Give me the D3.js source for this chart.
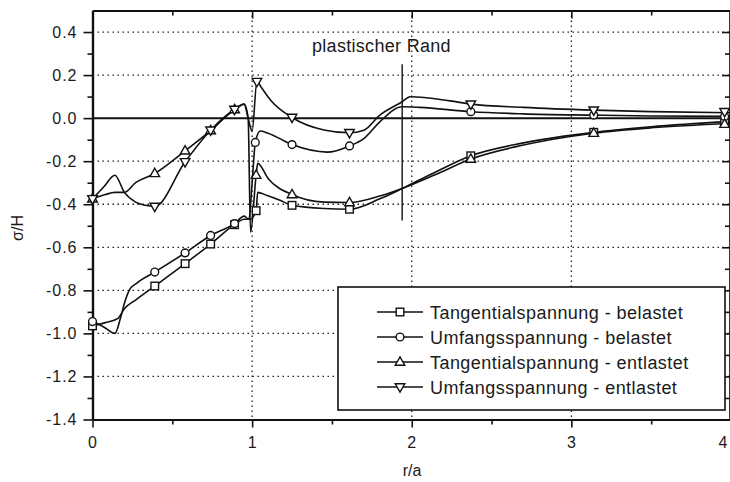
<!DOCTYPE html>
<html><head><meta charset="utf-8">
<script src="https://cdn.jsdelivr.net/npm/d3@7"></script>
<style>
html,body{margin:0;padding:0;background:#fff;}
svg{display:block;}
text{font-family:"Liberation Sans",Arial,Helvetica,sans-serif;fill:#1a1a1a;}
</style></head><body>
<svg id="chart" width="730" height="482"></svg>
<script>
// ---- data ----
const seriesNames = ["Tangentialspannung - belastet","Umfangsspannung - belastet","Tangentialspannung - entlastet","Umfangsspannung - entlastet"];
const seriesSymbols = ["square","circle","triangle","triangleDown"];

// Tangentialspannung - belastet (square)
const tbLineR = [0,0.08,0.16,0.2,0.27,0.39,0.58,0.74,0.89,0.95,0.985,1.025,1.035,1.09,1.17,1.25,1.45,1.61,1.8,1.94,2.15,2.37,2.7,3.14,3.5,4.0];
const tbLineV = [-0.965,-0.95,-0.93,-0.885,-0.845,-0.78,-0.676,-0.585,-0.495,-0.47,-0.47,-0.43,-0.345,-0.358,-0.38,-0.405,-0.42,-0.423,-0.375,-0.327,-0.25,-0.175,-0.115,-0.066,-0.04,-0.015];
const tbMarkR = [0,0.39,0.58,0.74,0.89,1.025,1.25,1.61,2.37,3.14,3.96];
const tbMarkV = [-0.965,-0.78,-0.676,-0.585,-0.495,-0.43,-0.405,-0.423,-0.175,-0.066,-0.017];

// Umfangsspannung - belastet (circle)
const ubLineR = [0,0.07,0.14,0.175,0.2,0.23,0.28,0.39,0.58,0.74,0.89,0.95,0.98,1.0,1.02,1.05,1.1,1.25,1.47,1.61,1.7,1.8,1.94,2.05,2.37,2.7,3.14,3.5,4.0];
const ubLineV = [-0.945,-0.97,-1.0,-0.93,-0.86,-0.8,-0.765,-0.715,-0.626,-0.545,-0.49,-0.455,-0.47,-0.3,-0.113,-0.06,-0.07,-0.123,-0.158,-0.129,-0.095,-0.017,0.053,0.05,0.03,0.02,0.014,0.01,0.008];
const ubMarkR = [0,0.39,0.58,0.74,0.89,1.02,1.25,1.61,2.37,3.14,3.96];
const ubMarkV = [-0.945,-0.715,-0.626,-0.545,-0.49,-0.113,-0.123,-0.129,0.03,0.014,0.008];

// Tangentialspannung - entlastet (triangle up)
const teLineR = [0,0.08,0.14,0.2,0.27,0.39,0.58,0.74,0.89,0.95,0.975,0.99,1.025,1.035,1.1,1.25,1.45,1.61,1.8,1.94,2.15,2.37,2.7,3.14,3.5,4.0];
const teLineV = [-0.375,-0.355,-0.345,-0.345,-0.3,-0.257,-0.152,-0.058,0.04,0.065,0.0,-0.53,-0.265,-0.21,-0.28,-0.355,-0.39,-0.392,-0.362,-0.327,-0.262,-0.19,-0.125,-0.07,-0.045,-0.025];
const teMarkR = [0,0.39,0.58,0.74,0.89,1.025,1.25,1.61,2.37,3.14,3.96];
const teMarkV = [-0.375,-0.257,-0.152,-0.058,0.04,-0.265,-0.355,-0.392,-0.19,-0.07,-0.028];

// Umfangsspannung - entlastet (triangle down)
const ueLineR = [0,0.07,0.14,0.2,0.27,0.33,0.39,0.58,0.74,0.89,0.95,0.975,1.0,1.03,1.06,1.12,1.25,1.45,1.61,1.7,1.8,1.94,1.99,2.24,2.37,2.7,3.14,3.5,4.0];
const ueLineV = [-0.375,-0.32,-0.265,-0.345,-0.39,-0.405,-0.41,-0.203,-0.056,0.04,0.065,0.0,-0.06,0.17,0.14,0.08,0.003,-0.055,-0.068,-0.056,0.014,0.076,0.099,0.08,0.065,0.05,0.037,0.03,0.025];
const ueMarkR = [0,0.39,0.58,0.74,0.89,1.03,1.25,1.61,2.37,3.14,3.96];
const ueMarkV = [-0.375,-0.41,-0.203,-0.056,0.04,0.17,0.003,-0.068,0.065,0.037,0.03];

const xMajorTicks = [0,1,2,3,4];
const xMinorTicks = [0.5,1.5,2.5,3.5];
const yMajorTicks = [-1.4,-1.2,-1.0,-0.8,-0.6,-0.4,-0.2,0.0,0.2,0.4];
const yMinorTicks = [-1.3,-1.1,-0.9,-0.7,-0.5,-0.3,-0.1,0.1,0.3];
const xGrid = [1,2,3];
const yGrid = [-1.2,-1.0,-0.8,-0.6,-0.4,-0.2,0.2,0.4];
const plasticR = 1.94, plasticTop = 0.25, plasticBottom = -0.475;
const plasticLabel = "plastischer Rand";
const xTitle = "r/a", yTitle = "σ/H";

// ---- chart ----
const svg = d3.select("#chart");
const x = d3.scaleLinear().domain([0,4]).range([92.5,731]);
const y = d3.scaleLinear().domain([-1.4,0.5]).range([419.5,10.5]);

const series = [
  {name:seriesNames[0], sym:seriesSymbols[0], lr:tbLineR, lv:tbLineV, mr:tbMarkR, mv:tbMarkV},
  {name:seriesNames[1], sym:seriesSymbols[1], lr:ubLineR, lv:ubLineV, mr:ubMarkR, mv:ubMarkV},
  {name:seriesNames[2], sym:seriesSymbols[2], lr:teLineR, lv:teLineV, mr:teMarkR, mv:teMarkV},
  {name:seriesNames[3], sym:seriesSymbols[3], lr:ueLineR, lv:ueLineV, mr:ueMarkR, mv:ueMarkV}
];

// grid
const gridG = svg.append("g");
gridG.selectAll(".hg").data(yGrid).enter().append("line")
  .attr("x1",x(0)).attr("x2",x(4)).attr("y1",d=>y(d)).attr("y2",d=>y(d))
  .attr("stroke","#222").attr("stroke-width",1.3).attr("stroke-dasharray","1.5,3.5");
gridG.selectAll(".vg").data(xGrid).enter().append("line")
  .attr("y1",y(0.5)).attr("y2",y(-1.4)).attr("x1",d=>x(d)).attr("x2",d=>x(d))
  .attr("stroke","#222").attr("stroke-width",1.3).attr("stroke-dasharray","1.5,3.5");
// zero line
svg.append("line").attr("x1",x(0)).attr("x2",x(4)).attr("y1",y(0)).attr("y2",y(0))
  .attr("stroke","#111").attr("stroke-width",2);

// axes
function styleAxis(sel){
  sel.selectAll("path").attr("stroke","#111").attr("stroke-width",2.2);
  sel.selectAll("line").attr("stroke","#111").attr("stroke-width",1.6);
  sel.selectAll("text").attr("font-size","16px").attr("letter-spacing","1px")
     .attr("font-family",'"Liberation Sans",Arial,sans-serif').attr("fill","#1a1a1a");
}
const fmt = d3.format(".1f");
const axLeft = svg.append("g").attr("transform",`translate(${x(0)},0)`)
  .call(d3.axisLeft(y).tickValues(yMajorTicks).tickSize(9).tickSizeOuter(0).tickPadding(6).tickFormat(d=>fmt(d).replace("−","-")));
styleAxis(axLeft);
const axLeftMinor = svg.append("g").attr("transform",`translate(${x(0)},0)`)
  .call(d3.axisLeft(y).tickValues(yMinorTicks).tickSize(5).tickSizeOuter(0).tickFormat(""));
styleAxis(axLeftMinor);
const axBottom = svg.append("g").attr("transform",`translate(0,${y(-1.4)})`)
  .call(d3.axisBottom(x).tickValues(xMajorTicks).tickSize(8).tickSizeOuter(0).tickPadding(9).tickFormat(d3.format("d")));
styleAxis(axBottom);
// keep the last label ("4") inside the picture
axBottom.selectAll(".tick text").filter(d=>d===4).attr("text-anchor","end").attr("dx","-4px").attr("letter-spacing","0px");
const axBottomMinor = svg.append("g").attr("transform",`translate(0,${y(-1.4)})`)
  .call(d3.axisBottom(x).tickValues(xMinorTicks).tickSize(5).tickSizeOuter(0).tickFormat(""));
styleAxis(axBottomMinor);
const axTop = svg.append("g").attr("transform",`translate(0,${y(0.5)})`)
  .call(d3.axisTop(x).tickValues(xMajorTicks).tickSize(-8).tickSizeOuter(0).tickFormat(""));
styleAxis(axTop);
const axTopMinor = svg.append("g").attr("transform",`translate(0,${y(0.5)})`)
  .call(d3.axisTop(x).tickValues(xMinorTicks).tickSize(-5).tickSizeOuter(0).tickFormat(""));
styleAxis(axTopMinor);
const axRight = svg.append("g").attr("transform",`translate(${x(4)-1},0)`)
  .call(d3.axisRight(y).tickValues(yMajorTicks).tickSize(-8).tickSizeOuter(0).tickFormat(""));
styleAxis(axRight);
const axRightMinor = svg.append("g").attr("transform",`translate(${x(4)-1},0)`)
  .call(d3.axisRight(y).tickValues(yMinorTicks).tickSize(-5).tickSizeOuter(0).tickFormat(""));
styleAxis(axRightMinor);

// axis titles
svg.append("text").attr("x",412).attr("y",476).attr("text-anchor","middle")
  .attr("font-size","16px").text(xTitle);
svg.append("text").attr("transform","translate(23,228) rotate(-90)").attr("text-anchor","middle")
  .attr("font-size","16px").text(yTitle);

// plastic boundary
svg.append("line").attr("x1",x(plasticR)).attr("x2",x(plasticR))
  .attr("y1",y(plasticTop)).attr("y2",y(plasticBottom)).attr("stroke","#111").attr("stroke-width",1.4);
svg.append("text").attr("x",312).attr("y",52).attr("font-size","18px").attr("letter-spacing","0.3px").text(plasticLabel);

// series lines
const line = d3.line().x(d=>x(d[0])).y(d=>y(d[1])).curve(d3.curveMonotoneX);
series.forEach(s=>{
  svg.append("path").datum(d3.zip(s.lr,s.lv)).attr("d",line)
    .attr("fill","none").attr("stroke","#111").attr("stroke-width",1.6).attr("stroke-linejoin","round");
});

function drawMarker(sel, sym){
  let p;
  if(sym==="square") p = sel.append("rect").attr("x",-3.8).attr("y",-3.8).attr("width",7.6).attr("height",7.6);
  else if(sym==="circle") p = sel.append("circle").attr("r",3.9);
  else if(sym==="triangle") p = sel.append("path").attr("d","M0,-5.2L4.8,3.2L-4.8,3.2Z");
  else p = sel.append("path").attr("d","M0,5.2L4.8,-3.2L-4.8,-3.2Z");
  p.attr("fill","#fff").attr("stroke","#111").attr("stroke-width",1.4);
}
series.forEach(s=>{
  d3.zip(s.mr,s.mv).forEach(d=>{
    const m = svg.append("g").attr("transform",`translate(${x(d[0])},${y(d[1])})`);
    drawMarker(m, s.sym);
  });
});

// legend
const lg = svg.append("g");
lg.append("rect").attr("x",338).attr("y",287).attr("width",387).attr("height",123)
  .attr("fill","#fff").attr("stroke","#111").attr("stroke-width",1.6);
series.forEach((s,i)=>{
  const yy = 312 + i*25;
  lg.append("line").attr("x1",377).attr("x2",423).attr("y1",yy).attr("y2",yy)
    .attr("stroke","#111").attr("stroke-width",1.5);
  const m = lg.append("g").attr("transform",`translate(400,${yy})`);
  drawMarker(m, s.sym);
  lg.append("text").attr("x",430).attr("y",yy+6.5).attr("font-size","18px").attr("letter-spacing","0.45px").text(s.name);
});
</script>
</body></html>
